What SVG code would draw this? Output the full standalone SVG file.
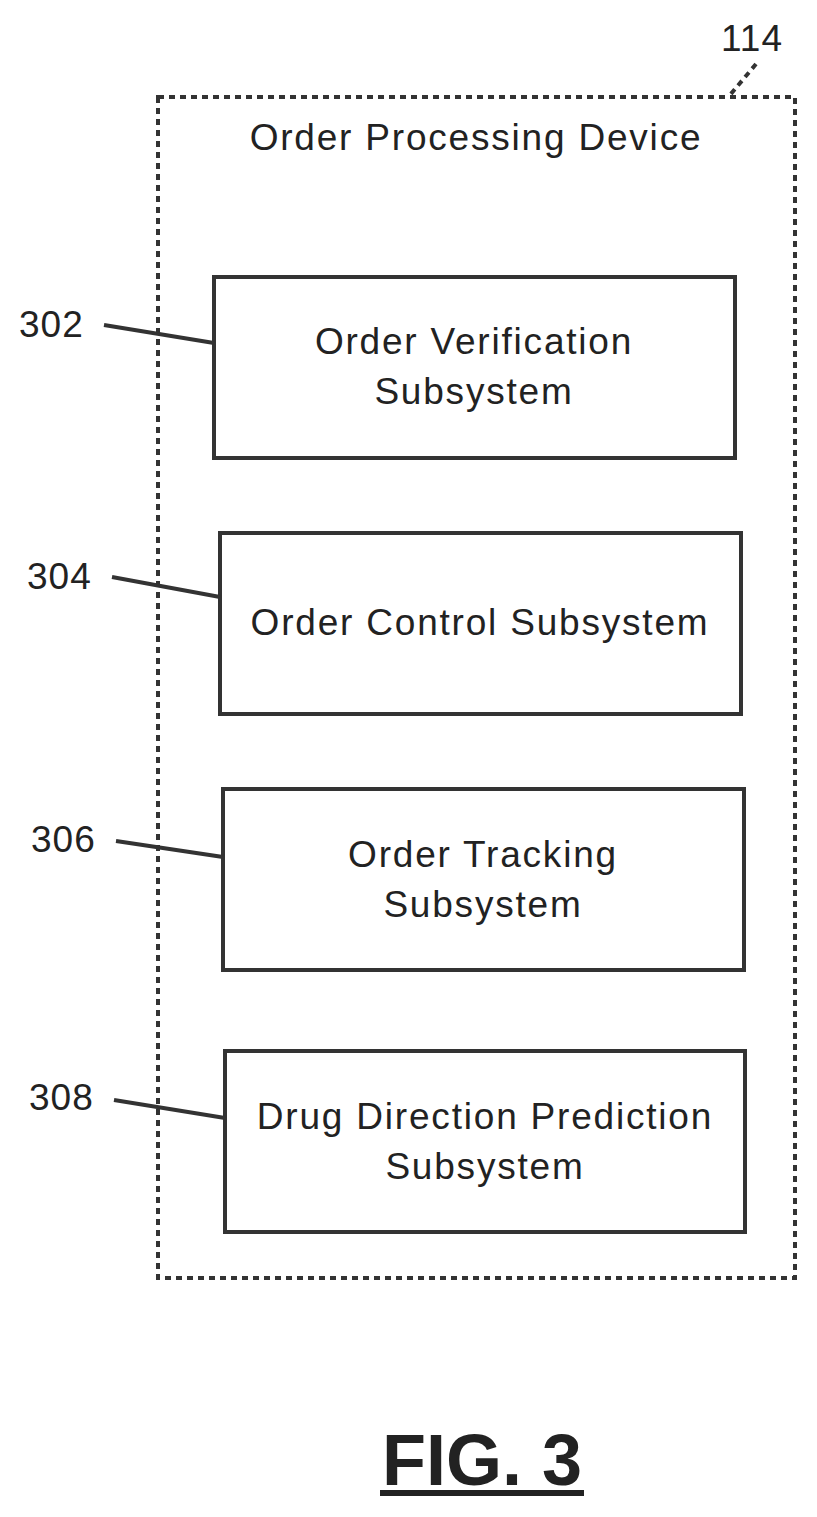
<svg xmlns="http://www.w3.org/2000/svg" width="817" height="1517" viewBox="0 0 817 1517">
<style>
.t{font-family:"Liberation Sans",Arial,sans-serif;font-size:37px;letter-spacing:1.8px;fill:#222;text-anchor:middle}
.n{font-family:"Liberation Sans",Arial,sans-serif;font-size:37px;letter-spacing:1px;fill:#222}
.b{fill:#fff;stroke:#333;stroke-width:4}
.l{stroke:#333;stroke-width:4;fill:none}
</style>
<rect width="817" height="1517" fill="#fff"/>
<g id="device">
<rect x="158" y="97" width="637" height="1181" fill="none" stroke="#333" stroke-width="4" stroke-dasharray="6,5"/>
<text class="t" x="476" y="150">Order Processing Device</text>
<text class="n" x="721" y="51">114</text>
</g>
<g id="n302"><rect class="b" x="214" y="277" width="521" height="181"/>
<text class="t" x="474" y="354">Order Verification</text><text class="t" x="474" y="404">Subsystem</text>
<text class="n" x="19" y="337">302</text></g>
<g id="n304"><rect class="b" x="220" y="533" width="521" height="181"/>
<text class="t" x="480" y="635">Order Control Subsystem</text>
<text class="n" x="27" y="589">304</text></g>
<g id="n306"><rect class="b" x="223" y="789" width="521" height="181"/>
<text class="t" x="483" y="867">Order Tracking</text><text class="t" x="483" y="917">Subsystem</text>
<text class="n" x="31" y="852">306</text></g>
<g id="n308"><rect class="b" x="225" y="1051" width="520" height="181"/>
<text class="t" x="485" y="1129">Drug Direction Prediction</text><text class="t" x="485" y="1179">Subsystem</text>
<text class="n" x="29" y="1110">308</text></g>
<g id="connectors">
<line class="l" x1="104" y1="325" x2="214" y2="343"/>
<line class="l" x1="112" y1="577" x2="220" y2="597"/>
<line class="l" x1="116" y1="841" x2="223" y2="857"/>
<line class="l" x1="114" y1="1100" x2="225" y2="1118"/>
<line class="l" x1="756" y1="64" x2="730" y2="95" stroke-dasharray="6,5"/>
</g>
<g id="fig">
<text x="482" y="1485" font-family="Liberation Sans,Arial,sans-serif" font-size="72" font-weight="bold" fill="#222" text-anchor="middle">FIG. 3</text>
<rect x="380" y="1490" width="204" height="6" fill="#222"/>
</g>
</svg>
